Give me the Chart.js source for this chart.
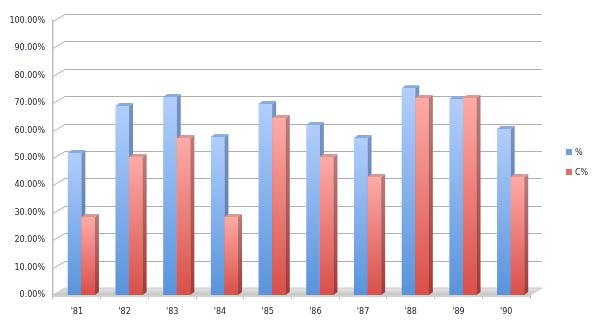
<!DOCTYPE html>
<html>
<head>
<meta charset="utf-8">
<script src="https://cdn.jsdelivr.net/npm/chart.js@4.4.0/dist/chart.umd.min.js"></script>
<style>
  html, body { margin: 0; padding: 0; background: #fff; }
  #wrap { width: 601px; height: 324px; }
</style>
</head>
<body>
<div id="wrap"><canvas id="chart"></canvas></div>
<script>
// 数据
const years = ["'81", "'82", "'83", "'84", "'85", "'86", "'87", "'88", "'89", "'90"];
const pct = [0.518, 0.690, 0.723, 0.577, 0.697, 0.620, 0.573, 0.755, 0.715, 0.606];
const cpct = [0.285, 0.504, 0.573, 0.285, 0.646, 0.504, 0.431, 0.719, 0.719, 0.431];
const seriesNames = ['%', 'C%'];
const yStep = 0.1;

// 3D 偏移
const WALL_DX = 12, WALL_DY = 7;   // 背墙
const BAR_DX = 4, BAR_DY = 3;      // 柱子厚度
const BAR_SHIFT = 4.5;

const FONT = { family: 'DejaVu Sans', size: 8 };
const TEXT = '#1a1a33';

const blue = { light: '#b2cefc', dark: '#5993db', side: ['#7791c2', '#4c71aa'], top: '#8ea9d7', key: '#6f9de0' };
const red = { light: '#fdaba7', dark: '#d94f49', side: ['#b87b79', '#a23a36'], top: '#d49a97', key: '#e26d68' };
const palette = [blue, red];

// 前面渐变
function frontFill(c) {
    return function (ctx) {
        const chart = ctx.chart;
        if (!chart.chartArea || ctx.raw == null) return c.dark;
        const y = chart.scales.y;
        const g = chart.ctx.createLinearGradient(0, y.getPixelForValue(ctx.raw), 0, y.getPixelForValue(0));
        g.addColorStop(0, c.light);
        g.addColorStop(1, c.dark);
        return g;
    };
}

// 画侧面和顶面
function drawFaces(ctx, el, c) {
    const { x, y, base, width } = el.getProps(['x', 'y', 'base', 'width'], true);
    const l = x - width / 2, r = x + width / 2;
    const sg = ctx.createLinearGradient(0, y, 0, base);
    sg.addColorStop(0, c.side[0]);
    sg.addColorStop(1, c.side[1]);
    ctx.fillStyle = sg;
    ctx.beginPath();
    ctx.moveTo(r, y);
    ctx.lineTo(r + BAR_DX, y - BAR_DY);
    ctx.lineTo(r + BAR_DX, base - BAR_DY);
    ctx.lineTo(r, base);
    ctx.closePath();
    ctx.fill();
    ctx.fillStyle = c.top;
    ctx.beginPath();
    ctx.moveTo(l, y);
    ctx.lineTo(l + BAR_DX, y - BAR_DY);
    ctx.lineTo(r + BAR_DX, y - BAR_DY);
    ctx.lineTo(r, y);
    ctx.closePath();
    ctx.fill();
}

// 背墙 + 地板 + 柱子立体效果
const excel3d = {
    id: 'excel3d',
    beforeDatasetsDraw(chart) {
        const { ctx, chartArea: a, scales: { y } } = chart;
        ctx.save();
        ctx.strokeStyle = '#b0b0b0';
        ctx.lineWidth = 1;
        y.ticks.forEach(t => {
            if (t.value === 0) return;
            const py = Math.round(y.getPixelForValue(t.value)) + 0.5;
            ctx.beginPath();
            ctx.moveTo(a.left, py);
            ctx.lineTo(a.left + WALL_DX, py - WALL_DY);
            ctx.lineTo(a.right + WALL_DX, py - WALL_DY);
            ctx.stroke();
        });
        // 地板
        const b = a.bottom;
        const g = ctx.createLinearGradient(0, b - WALL_DY, 0, b);
        g.addColorStop(0, '#e6e6e6');
        g.addColorStop(1, '#c4c4c4');
        ctx.fillStyle = g;
        ctx.beginPath();
        ctx.moveTo(a.left, b);
        ctx.lineTo(a.right, b);
        ctx.lineTo(a.right + WALL_DX, b - WALL_DY);
        ctx.lineTo(a.left + WALL_DX, b - WALL_DY);
        ctx.closePath();
        ctx.fill();
        ctx.strokeStyle = '#c8c8c8';
        ctx.stroke();
        ctx.fillStyle = '#d0d0d0';
        ctx.fillRect(a.left, b, a.right - a.left, 2);
        ctx.restore();
        // 柱子整体右移（透视）
        ctx.save();
        ctx.translate(BAR_SHIFT, 0);
    },
    afterDatasetsDraw(chart) {
        const ctx = chart.ctx;
        // 按顺序重画：先蓝色侧面，再红色前面盖住
        chart.data.datasets.forEach((ds, i) => {
            const meta = chart.getDatasetMeta(i);
            meta.data.forEach(el => {
                if (i > 0) el.draw(ctx);
                drawFaces(ctx, el, palette[i]);
            });
        });
        ctx.restore();
    },
    afterDraw(chart) {
        // 图例
        const { ctx, chartArea: a } = chart;
        ctx.save();
        ctx.font = FONT.size + 'px ' + FONT.family;
        ctx.textBaseline = 'middle';
        chart.data.datasets.forEach((ds, i) => {
            const ly = 152 + i * 20;
            ctx.fillStyle = palette[i].key;
            ctx.fillRect(a.right + 36, ly - 3, 6, 6);
            ctx.fillStyle = TEXT;
            ctx.fillText(ds.label, a.right + 45, ly + 0.5);
        });
        ctx.restore();
    }
};

new Chart(document.getElementById('chart'), {
    type: 'bar',
    data: {
        labels: years,
        datasets: [
            { label: seriesNames[0], data: pct, backgroundColor: frontFill(blue), borderWidth: 0 },
            { label: seriesNames[1], data: cpct, backgroundColor: frontFill(red), borderWidth: 0 }
        ]
    },
    options: {
        responsive: true,
        maintainAspectRatio: false,
        animation: false,
        layout: { padding: { top: 21, right: 71, bottom: 0, left: 0 } },
        datasets: { bar: { categoryPercentage: 0.57, barPercentage: 1.0 } },
        plugins: { legend: { display: false }, tooltip: { enabled: false } },
        scales: {
            x: {
                grid: { display: true, drawOnChartArea: false, drawTicks: true, tickLength: 4, offset: true, color: '#bdbdbd' },
                border: { display: false },
                ticks: { font: FONT, color: TEXT, padding: 8, maxRotation: 0 },
                afterFit: s => { s.height = 29; }
            },
            y: {
                min: 0,
                max: 1,
                grid: { display: false, drawTicks: false },
                border: { display: true, color: '#bdbdbd', width: 1.5 },
                ticks: {
                    stepSize: yStep,
                    font: FONT,
                    color: TEXT,
                    padding: 8,
                    callback: v => (v * 100).toFixed(2) + '%'
                },
                afterFit: s => { s.width = 53; }
            }
        }
    },
    plugins: [excel3d]
});
</script>
</body>
</html>
